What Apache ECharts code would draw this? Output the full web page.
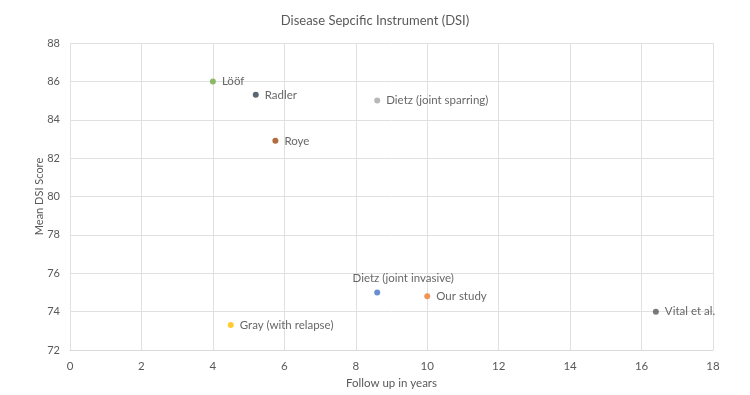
<!DOCTYPE html>
<html><head><meta charset="utf-8">
<script src="https://cdn.jsdelivr.net/npm/echarts@6/dist/echarts.min.js"></script>
<style>html,body{margin:0;padding:0;background:#fff}#c{width:750px;height:395px}</style>
</head><body><div id="c"></div>
<script>
var studyNames = ["Lööf", "Radler", "Dietz (joint sparring)", "Roye", "Dietz (joint invasive)", "Our study", "Vital et al.", "Gray (with relapse)"];
var followUpYears = [4.0, 5.2, 8.6, 5.75, 8.6, 10.0, 16.4, 4.5];
var meanDSI = [86.0, 85.3, 85.0, 82.9, 75.0, 74.8, 74.0, 73.3];
var xTicks = [0, 2, 4, 6, 8, 10, 12, 14, 16, 18];
var yTicks = [72, 74, 76, 78, 80, 82, 84, 86, 88];

var colors = ["#70ad47", "#333f50", "#a5a5a5", "#9e480e", "#4472c4", "#ed7d31", "#595959", "#ffc000"];
var font = "Lato, 'Open Sans', sans-serif";

var data = studyNames.map(function (n, i) {
  var lbl = { show: true, formatter: n, position: 'right', distance: 6 };
  if (n === "Dietz (joint invasive)") { lbl = { show: true, formatter: n, position: 'top', distance: 5, offset: [26, 0] }; }
  return { name: n, value: [followUpYears[i], meanDSI[i]], itemStyle: { color: colors[i] }, label: lbl };
});

var chart = echarts.init(document.getElementById('c'));
chart.setOption({
  animation: false,
  title: {
    text: 'Disease Sepcific Instrument (DSI)',
    left: 'center', top: 9,
    textStyle: { fontFamily: font, fontSize: 13, fontWeight: 'normal', color: '#595959' }
  },
  grid: { left: 70, right: 37, top: 43, bottom: 45 },
  xAxis: {
    type: 'value', min: xTicks[0], max: xTicks[xTicks.length - 1], interval: 2,
    name: 'Follow up in years', nameLocation: 'middle', nameGap: 27, nameMoveOverlap: false,
    nameTextStyle: { fontFamily: font, fontSize: 11.5, color: '#595959' },
    axisLine: { show: true, lineStyle: { color: '#d9d9d9' } },
    axisTick: { show: false },
    axisLabel: { fontFamily: font, fontSize: 11.5, color: '#595959', margin: 10 },
    splitLine: { show: true, lineStyle: { color: '#e0e0e0' } }
  },
  yAxis: {
    type: 'value', min: yTicks[0], max: yTicks[yTicks.length - 1], interval: 2,
    name: 'Mean DSI Score', nameLocation: 'middle', nameGap: 25, nameRotate: 90, nameMoveOverlap: false,
    nameTextStyle: { fontFamily: font, fontSize: 11, color: '#595959' },
    axisLine: { show: false }, axisTick: { show: false },
    axisLabel: { fontFamily: font, fontSize: 11, color: '#595959', margin: 10 },
    splitLine: { show: true, lineStyle: { color: '#e0e0e0' } }
  },
  series: [{
    type: 'scatter', symbol: 'circle', symbolSize: 6,
    label: { fontFamily: font, fontSize: 11.5, color: '#404040' },
    data: data
  }]
});
</script></body></html>
